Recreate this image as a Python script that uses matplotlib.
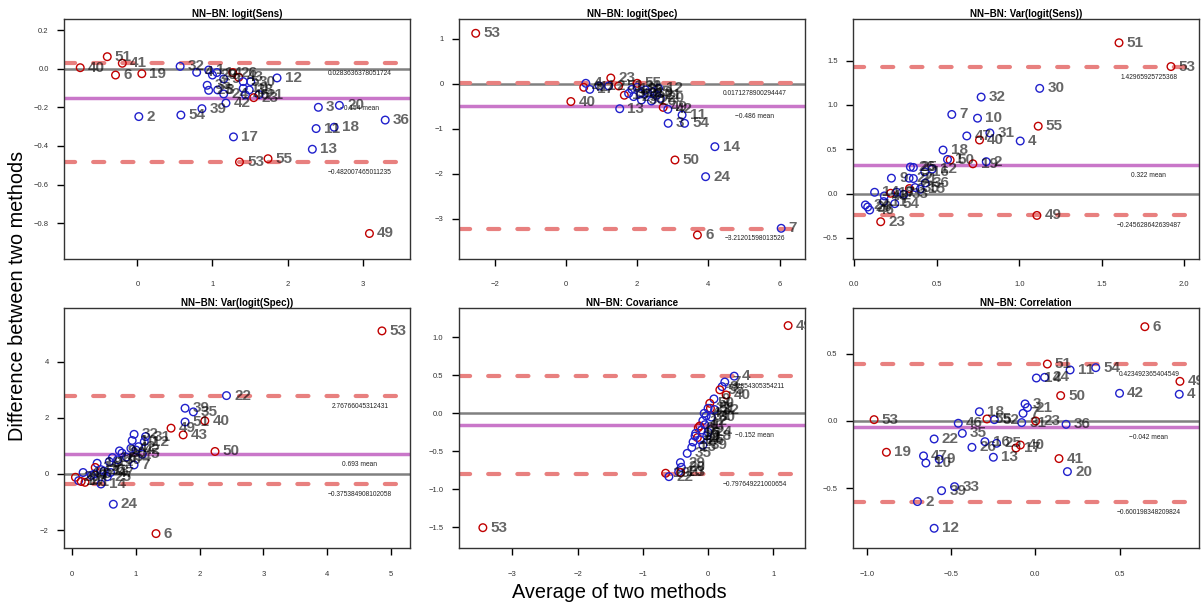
import matplotlib
matplotlib.use("Agg")
import matplotlib.pyplot as plt
import matplotlib.transforms as mtransforms

plt.rcParams['font.family'] = ['Liberation Sans', 'DejaVu Sans']
plt.rcParams['lines.scale_dashes'] = False

# ---- data: average vs difference, study id, group (r = red, b = blue) ----
sens_avg = [-0.76, -0.40, -0.20, -0.29, 0.06, 0.02, 0.58, 0.86, 0.57, 0.79, 0.95, 1.00, 1.06, 1.15, 1.27, 1.35,
            1.41, 1.51, 0.93, 0.95, 1.07, 1.15, 1.41, 1.49, 1.44, 1.62, 1.55, 1.18, 1.86, 1.28, 1.36, 1.74,
            2.41, 2.69, 2.38, 2.62, 2.33, 3.30, 3.09]
sens_diff = [0.005, 0.062, 0.028, -0.033, -0.026, -0.248, -0.24, -0.207, 0.012, -0.019, -0.007, -0.033, -0.02,
             -0.053, -0.02, -0.045, -0.067, -0.067, -0.086, -0.112, -0.11, -0.131, -0.102, -0.11, -0.136, -0.134,
             -0.15, -0.178, -0.048, -0.353, -0.483, -0.466, -0.2, -0.19, -0.31, -0.303, -0.417, -0.266, -0.853]
sens_ids = [40, 51, 41, 6, 19, 2, 54, 39, 32, 4, 1, 29, 14, 9, 26, 43, 5, 30, 35, 25, 8, 24, 10, 38, 46, 21,
            23, 42, 12, 17, 53, 55, 3, 20, 11, 18, 13, 36, 49]
sens_grp = "rrrrrbbbbbbbbbrrbbbbbbbbbbrbbbrrbbbbbbr"
sens_lines = [0.0283636378051724, -0.154, -0.482007465011235]

spec_avg = [-2.53, 0.14, 1.51, 1.26, 0.56, 0.50, 0.67, 0.94, 1.20, 1.48, 1.64, 1.76, 1.90, 2.00, 2.12, 2.40,
            2.65, 2.73, 2.86, 2.23, 2.46, 2.60, 2.00, 3.26, 2.87, 3.33, 4.18, 3.06, 3.92, 3.69, 6.04,
            2.30, 2.55, 1.85, 2.10]
spec_diff = [1.126, -0.39, -0.55, 0.133, 0.015, -0.074, -0.12, -0.044, -0.044, -0.044, -0.25, -0.21, -0.28,
             -0.074, -0.356, -0.378, -0.32, -0.52, -0.563, -0.133, -0.17, -0.096, 0.015, -0.69, -0.874, -0.874,
             -1.393, -1.689, -2.06, -3.356, -3.207, -0.2, -0.25, -0.12, -0.22]
spec_ids = [53, 40, 13, 23, 4, 41, 17, 1, 2, 51, 19, 9, 29, 31, 30, 26, 20, 49, 42, 8, 5, 12, 55, 11, 3, 54,
            14, 50, 24, 6, 7, 10, 21, 18, 36]
spec_grp = "rrbrbrbbbrrbbbbbbrbbbbrbbbbrbrbbbbb"
spec_lines = [0.0171278900294447, -0.486, -3.21201598013526]

vsens_avg = [1.605, 1.92, 1.124, 0.769, 0.591, 0.747, 1.115, 0.682, 0.759, 0.822, 1.006, 0.538, 0.581, 0.565,
             0.719, 0.80, 1.107, 0.16, 0.225, 0.34, 0.358, 0.332, 0.358, 0.427, 0.472, 0.334, 0.368, 0.123,
             0.182, 0.22, 0.257, 0.30, 0.245, 0.067, 0.081, 0.093, 0.178, 0.43, 0.40]
vsens_diff = [1.70, 1.432, 1.186, 1.088, 0.892, 0.85, 0.76, 0.65, 0.604, 0.684, 0.593, 0.491, 0.378, 0.385,
              0.336, 0.36, -0.246, -0.317, 0.174, 0.30, 0.295, 0.174, 0.17, 0.245, 0.276, 0.057, 0.068, 0.015,
              -0.026, 0.004, 0.015, -0.008, -0.113, -0.128, -0.151, -0.185, -0.09, 0.12, 0.05]
vsens_ids = [51, 53, 30, 32, 7, 10, 55, 47, 40, 31, 4, 18, 50, 1, 19, 2, 49, 23, 9, 26, 25, 22, 21, 16, 12,
             3, 35, 14, 43, 17, 8, 33, 54, 24, 20, 46, 11, 36, 15]
vsens_grp = "rrbbbbrbrbbbrbrbrrbbbbbbbrbbbrbbbbbbbbb"
vsens_lines = [1.42965925725368, 0.322, -0.245628642639487]

vspec_avg = [4.86, 2.42, 1.77, 1.90, 1.77, 2.08, 1.55, 1.74, 2.24, 0.644, 1.314, 0.97, 0.94, 1.15, 1.13, 0.92,
             1.04, 0.74, 0.78, 0.63, 0.58, 0.71, 0.97, 0.39, 0.36, 0.17, 0.05, 0.10, 0.20, 0.14, 0.45, 0.30,
             0.35, 0.50, 0.55, 0.45, 0.60, 1.10, 1.00, 0.85]
vspec_diff = [5.095, 2.79, 2.34, 2.21, 1.85, 1.89, 1.63, 1.39, 0.80, -1.08, -2.126, 1.41, 1.19, 1.33, 1.15, 0.91,
              0.97, 0.82, 0.74, 0.58, 0.44, 0.50, 0.32, 0.38, 0.23, 0.05, -0.12, -0.24, -0.30, -0.27, -0.36,
              -0.05, 0.0, 0.10, -0.10, 0.15, 0.05, 0.70, 0.85, 0.60]
vspec_ids = [53, 22, 39, 35, 51, 40, 49, 43, 50, 24, 6, 32, 10, 31, 12, 4, 2, 9, 20, 16, 11, 30, 7, 18, 19,
             46, 23, 1, 41, 17, 14, 3, 8, 13, 25, 26, 47, 5, 42, 54]
vspec_grp = "rbbbbrrrrbrbbbbbbbbbbbbbrbrbrrbbbbbbbbbb"
vspec_lines = [2.76766045312431, 0.693, -0.375384908102058]

cov_avg = [1.226, -3.45, 0.40, 0.256, 0.215, 0.18, 0.276, 0.09, 0.026, 0.036, 0.0, -0.03, -0.08, -0.128, -0.15,
           -0.19, -0.164, -0.23, -0.32, -0.424, -0.41, -0.45, -0.65, -0.60, -0.42, -0.05, -0.10, -0.02, 0.0,
           -0.12, 0.05, 0.10, -0.06, -0.20, -0.25, -0.08]
cov_diff = [1.157, -1.508, 0.49, 0.413, 0.352, 0.31, 0.242, 0.19, 0.132, 0.066, 0.066, -0.035, -0.097, -0.167,
            -0.19, -0.264, -0.32, -0.378, -0.528, -0.65, -0.712, -0.77, -0.79, -0.835, -0.78, -0.15, -0.22,
            -0.30, -0.25, -0.35, -0.05, 0.05, 0.0, -0.30, -0.45, -0.42]
cov_ids = [49, 53, 4, 7, 3, 55, 40, 9, 50, 51, 21, 31, 12, 43, 6, 16, 41, 46, 35, 29, 20, 10, 19, 22, 23, 1,
           2, 18, 24, 26, 30, 32, 47, 13, 15, 39]
cov_grp = "rrbbbrrbrrbbbrrbrbbbbbrbrbbbbbbbbbbb"
cov_lines = [0.492854305354211, -0.152, -0.797649221000654]

cor_avg = [0.649, 0.071, 0.206, 0.358, 0.006, 0.055, 0.857, 0.499, 0.853, 0.15, -0.061, -0.047, -0.073, -0.332,
           -0.287, -0.243, -0.081, 0.002, 0.182, -0.956, -0.457, -0.433, -0.60, -0.299, -0.376, -0.23, -0.115,
           -0.089, -0.249, -0.883, -0.663, -0.649, -0.57, 0.14, 0.19, -0.556, -0.479, -0.699, -0.60]
cor_diff = [0.702, 0.424, 0.38, 0.397, 0.32, 0.325, 0.295, 0.206, 0.199, 0.189, 0.127, 0.10, 0.057, 0.069,
            0.015, 0.01, -0.012, 0.0, -0.025, 0.01, -0.017, -0.092, -0.134, -0.154, -0.196, -0.166, -0.201,
            -0.179, -0.27, -0.233, -0.26, -0.313, -0.285, -0.28, -0.377, -0.519, -0.489, -0.60, -0.799]
cor_ids = [6, 51, 11, 54, 14, 24, 49, 42, 4, 50, 3, 21, 7, 18, 55, 52, 31, 23, 36, 53, 46, 35, 22, 16, 26,
           25, 17, 40, 13, 19, 47, 10, 9, 41, 20, 39, 33, 2, 12]
cor_grp = "rrbbbbrbbrbbbbrbbrbrbbbbbbrrbrbbbrbbbbb"
cor_lines = [0.423492365404549, -0.042, -0.600198348209824]

panels = [
    ("NN\u2212BN: logit(Sens)", sens_avg, sens_diff, sens_ids, sens_grp, sens_lines,
     (-0.976, 3.63), (-0.985, 0.257), [0, 1, 2, 3], [0.2, 0.0, -0.2, -0.4, -0.6, -0.8], "%.1f"),
    ("NN\u2212BN: logit(Spec)", spec_avg, spec_diff, spec_ids, spec_grp, spec_lines,
     (-3.007, 6.70), (-3.889, 1.444), [-2, 0, 2, 4, 6], [1, 0, -1, -2, -3], "%d"),
    ("NN\u2212BN: Var(logit(Sens))", vsens_avg, vsens_diff, vsens_ids, vsens_grp, vsens_lines,
     (-0.008, 2.09), (-0.737, 1.968), [0.0, 0.5, 1.0, 1.5, 2.0], [1.5, 1.0, 0.5, 0.0, -0.5], "%.1f"),
    ("NN\u2212BN: Var(logit(Spec))", vspec_avg, vspec_diff, vspec_ids, vspec_grp, vspec_lines,
     (-0.13, 5.30), (-2.65, 5.90), [0, 1, 2, 3, 4, 5], [4, 2, 0, -2], "%d"),
    ("NN\u2212BN: Covariance", cov_avg, cov_diff, cov_ids, cov_grp, cov_lines,
     (-3.82, 1.48), (-1.78, 1.385), [-3, -2, -1, 0, 1], [1.0, 0.5, 0.0, -0.5, -1.0, -1.5], "%.1f"),
    ("NN\u2212BN: Correlation", cor_avg, cor_diff, cor_ids, cor_grp, cor_lines,
     (-1.081, 0.970), (-0.948, 0.839), [-1.0, -0.5, 0.0, 0.5], [0.5, 0.0, -0.5], "%.1f"),
]

W, H = 1202, 606
fig = plt.figure(figsize=(W / 100, H / 100), dpi=100)

lefts = [64, 458.7, 853]
tops = [19, 308.3]
pw, ph = 346, 240

def fmt(v, f):
    return (f % v).replace("-", "\u2212")

for i, (title, xs, ys, ids, grp, lines, xl, yl, xt, yt, yf) in enumerate(panels):
    l = lefts[i % 3]
    t = tops[i // 3]
    ax = fig.add_axes([l / W, 1 - (t + ph) / H, pw / W, ph / H])
    ax.set_xlim(*xl)
    ax.set_ylim(*yl)

    up, mn, lo = lines
    ax.axhline(0, color="#808080", lw=1.8, zorder=1)
    ax.axhline(mn, color="#C977C9", lw=2.5, zorder=1)
    for v in (up, lo):
        ax.axhline(v, color="#E8807F", lw=3, ls=(0, (8, 13)), solid_capstyle="round",
                   dash_capstyle="round", zorder=1)

    # stat texts under each line
    tr = mtransforms.blended_transform_factory(ax.transAxes, ax.transData)
    off = mtransforms.ScaledTranslation(0, -7.5 / 72, fig.dpi_scale_trans)
    ax.text(0.855, up, repr(up).replace("-", "\u2212"), transform=tr + off, ha="center", va="center",
            fontsize=4.8, color="#222222", clip_on=True)
    ax.text(0.855, mn, fmt(mn, "%.3f") + " mean", transform=tr + off, ha="center", va="center",
            fontsize=4.8, color="#222222", clip_on=True)
    ax.text(0.855, lo, repr(lo).replace("-", "\u2212"), transform=tr + off, ha="center", va="center",
            fontsize=4.8, color="#222222", clip_on=True)

    cols = ["#C00000" if g == "r" else "#2020CC" for g in grp]
    ax.scatter(xs, ys, s=30, facecolors="none", edgecolors=cols, linewidths=1.0, zorder=3)

    loff = mtransforms.ScaledTranslation(5.5 / 72, 0, fig.dpi_scale_trans)
    for x, y, n in zip(xs, ys, ids):
        ax.text(x, y, str(n), transform=ax.transData + loff, ha="left", va="center", fontsize=11,
                fontweight="bold", color="black", alpha=0.6, clip_on=True, zorder=4)

    ax.set_title(title, fontsize=7, fontweight="bold", pad=1.5)
    ax.set_xticks(xt)
    ax.set_xticklabels([fmt(v, "%.1f" if isinstance(v, float) else "%d") for v in xt])
    ax.set_yticks(yt)
    ax.set_yticklabels([fmt(v, yf) for v in yt])
    ax.tick_params(axis="x", length=5, width=1, pad=11, labelsize=5.5, labelcolor="#333333")
    ax.tick_params(axis="y", length=5, width=1, pad=6, labelsize=5.5, labelcolor="#333333")
    for s in ax.spines.values():
        s.set_color("#333333")
        s.set_linewidth(1.0)

fig.text(18 / W, 1 - 296 / H, "Difference between two methods", rotation=90, ha="center", va="center",
         fontsize=14.3)
fig.text(619 / W, 1 - 592 / H, "Average of two methods", ha="center", va="center", fontsize=14.3)

fig.savefig("out.png", dpi=100)
